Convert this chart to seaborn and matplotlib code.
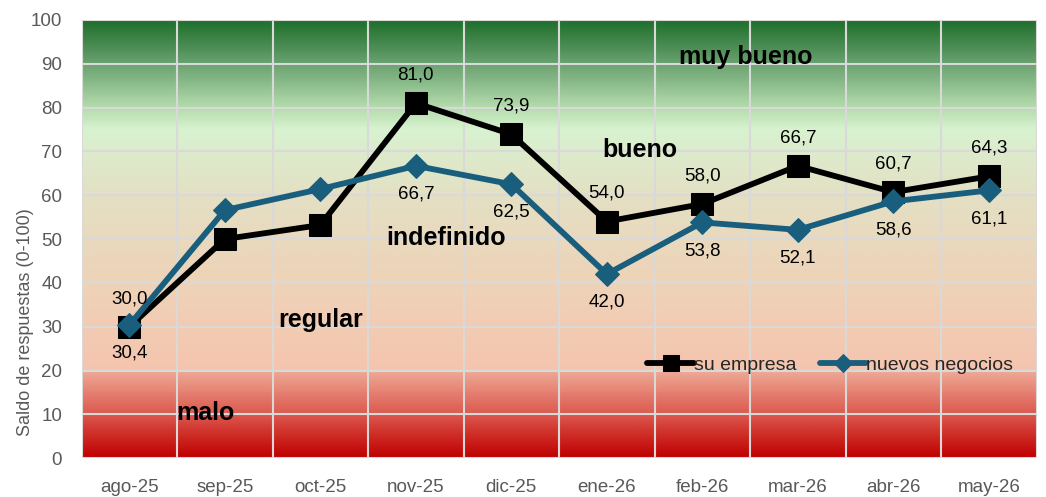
import numpy as np
import pandas as pd
import seaborn as sns
import matplotlib.pyplot as plt
from matplotlib.colors import LinearSegmentedColormap

meses = ['ago-25', 'sep-25', 'oct-25', 'nov-25', 'dic-25',
         'ene-26', 'feb-26', 'mar-26', 'abr-26', 'may-26']
su_empresa = [30.0, 50.0, 53.2, 81.0, 73.9, 54.0, 58.0, 66.7, 60.7, 64.3]
nuevos_negocios = [30.4, 56.6, 61.4, 66.7, 62.5, 42.0, 53.8, 52.1, 58.6, 61.1]
# which points carry a label (Excel only labelled some)
lab_empresa = [True, False, False, True, True, True, True, True, True, True]
lab_nuevos = [True, False, False, True, True, True, True, True, True, True]

zonas = ['muy bueno', 'bueno', 'indefinido', 'regular', 'malo']
zonas_x = [6.45, 5.35, 3.32, 2.0, 0.8]
zonas_y = [91.5, 70.3, 50.2, 31.5, 10.3]

df = pd.DataFrame({'mes': meses, 'su empresa': su_empresa,
                   'nuevos negocios': nuevos_negocios})
df['pos'] = range(len(df))

sns.set_style('white')
plt.rcParams['font.family'] = ['Liberation Sans', 'DejaVu Sans']

fig, ax = plt.subplots(figsize=(10.46, 4.97), dpi=100)
fig.subplots_adjust(left=0.078, right=0.991, top=0.96, bottom=0.078)

# background gradient (value 0 at bottom, 100 at top)
stops = [(0.0, '#c00000'), (0.10, '#dc5a50'), (0.199, '#efab97'),
         (0.20, '#f5c5ae'), (0.40, '#eed3b8'), (0.60, '#e4e0c4'),
         (0.75, '#d8f2d0'), (0.80, '#b5dcad'), (0.90, '#6aa270'),
         (1.0, '#1e6e2a')]
cmap = LinearSegmentedColormap.from_list('zonas', stops)
grad = np.linspace(0, 1, 500).reshape(-1, 1)
ax.imshow(grad, cmap=cmap, aspect='auto', origin='lower',
          extent=[-0.5, len(meses) - 0.5, 0, 100], zorder=0)

sns.lineplot(data=df, x='pos', y='su empresa', ax=ax, color='black', lw=4.2,
             marker='s', markersize=16, markeredgecolor='black',
             label='su empresa', zorder=4)
sns.lineplot(data=df, x='pos', y='nuevos negocios', ax=ax, color='#1a5e7e', lw=4.2,
             marker='D', markersize=12, markeredgecolor='#1a5e7e',
             label='nuevos negocios', zorder=5)

for i in range(len(meses)):
    if lab_empresa[i]:
        ax.text(i, su_empresa[i] + 4.5, f'{su_empresa[i]:.1f}'.replace('.', ','),
                ha='center', va='bottom', fontsize=13.5, color='black', zorder=6)
    if lab_nuevos[i]:
        ax.text(i, nuevos_negocios[i] - 4.5, f'{nuevos_negocios[i]:.1f}'.replace('.', ','),
                ha='center', va='top', fontsize=13.5, color='black', zorder=6)

for t, x, y in zip(zonas, zonas_x, zonas_y):
    ax.text(x, y, t, ha='center', va='center', fontsize=18, fontweight='bold',
            color='black', zorder=6)

ax.set_xlim(-0.5, len(meses) - 0.5)
ax.set_ylim(0, 100)
ax.set_xticks(range(len(meses)))
ax.set_xticklabels(meses)
ax.set_yticks(range(0, 101, 10))
ax.set_xticks(np.arange(-0.5, len(meses), 1), minor=True)
ax.grid(False)
ax.grid(True, which='minor', axis='x', color='#d9d9d9', lw=1.5, zorder=1)
ax.grid(True, which='major', axis='y', color='#d9d9d9', lw=1.5, zorder=1)
ax.set_axisbelow(False)
for ln in ax.get_xgridlines() + ax.get_ygridlines():
    ln.set_zorder(1)
ax.tick_params(axis='both', which='both', length=0, labelsize=13.5,
               labelcolor='#595959', pad=15)
ax.tick_params(axis='y', pad=14)
for s in ax.spines.values():
    s.set_visible(False)
ax.set_xlabel('')
ax.set_ylabel('Saldo de respuestas (0-100)', fontsize=13, color='#595959')
ax.yaxis.set_label_coords(-0.05, 0.31)

ax.legend(loc='center right', bbox_to_anchor=(0.99, 0.212), frameon=False, ncol=2,
          fontsize=14, handlelength=2.4, handletextpad=0.0, columnspacing=1.2,
          borderaxespad=0.3, markerscale=0.75)

plt.savefig('out.png', dpi=100)
